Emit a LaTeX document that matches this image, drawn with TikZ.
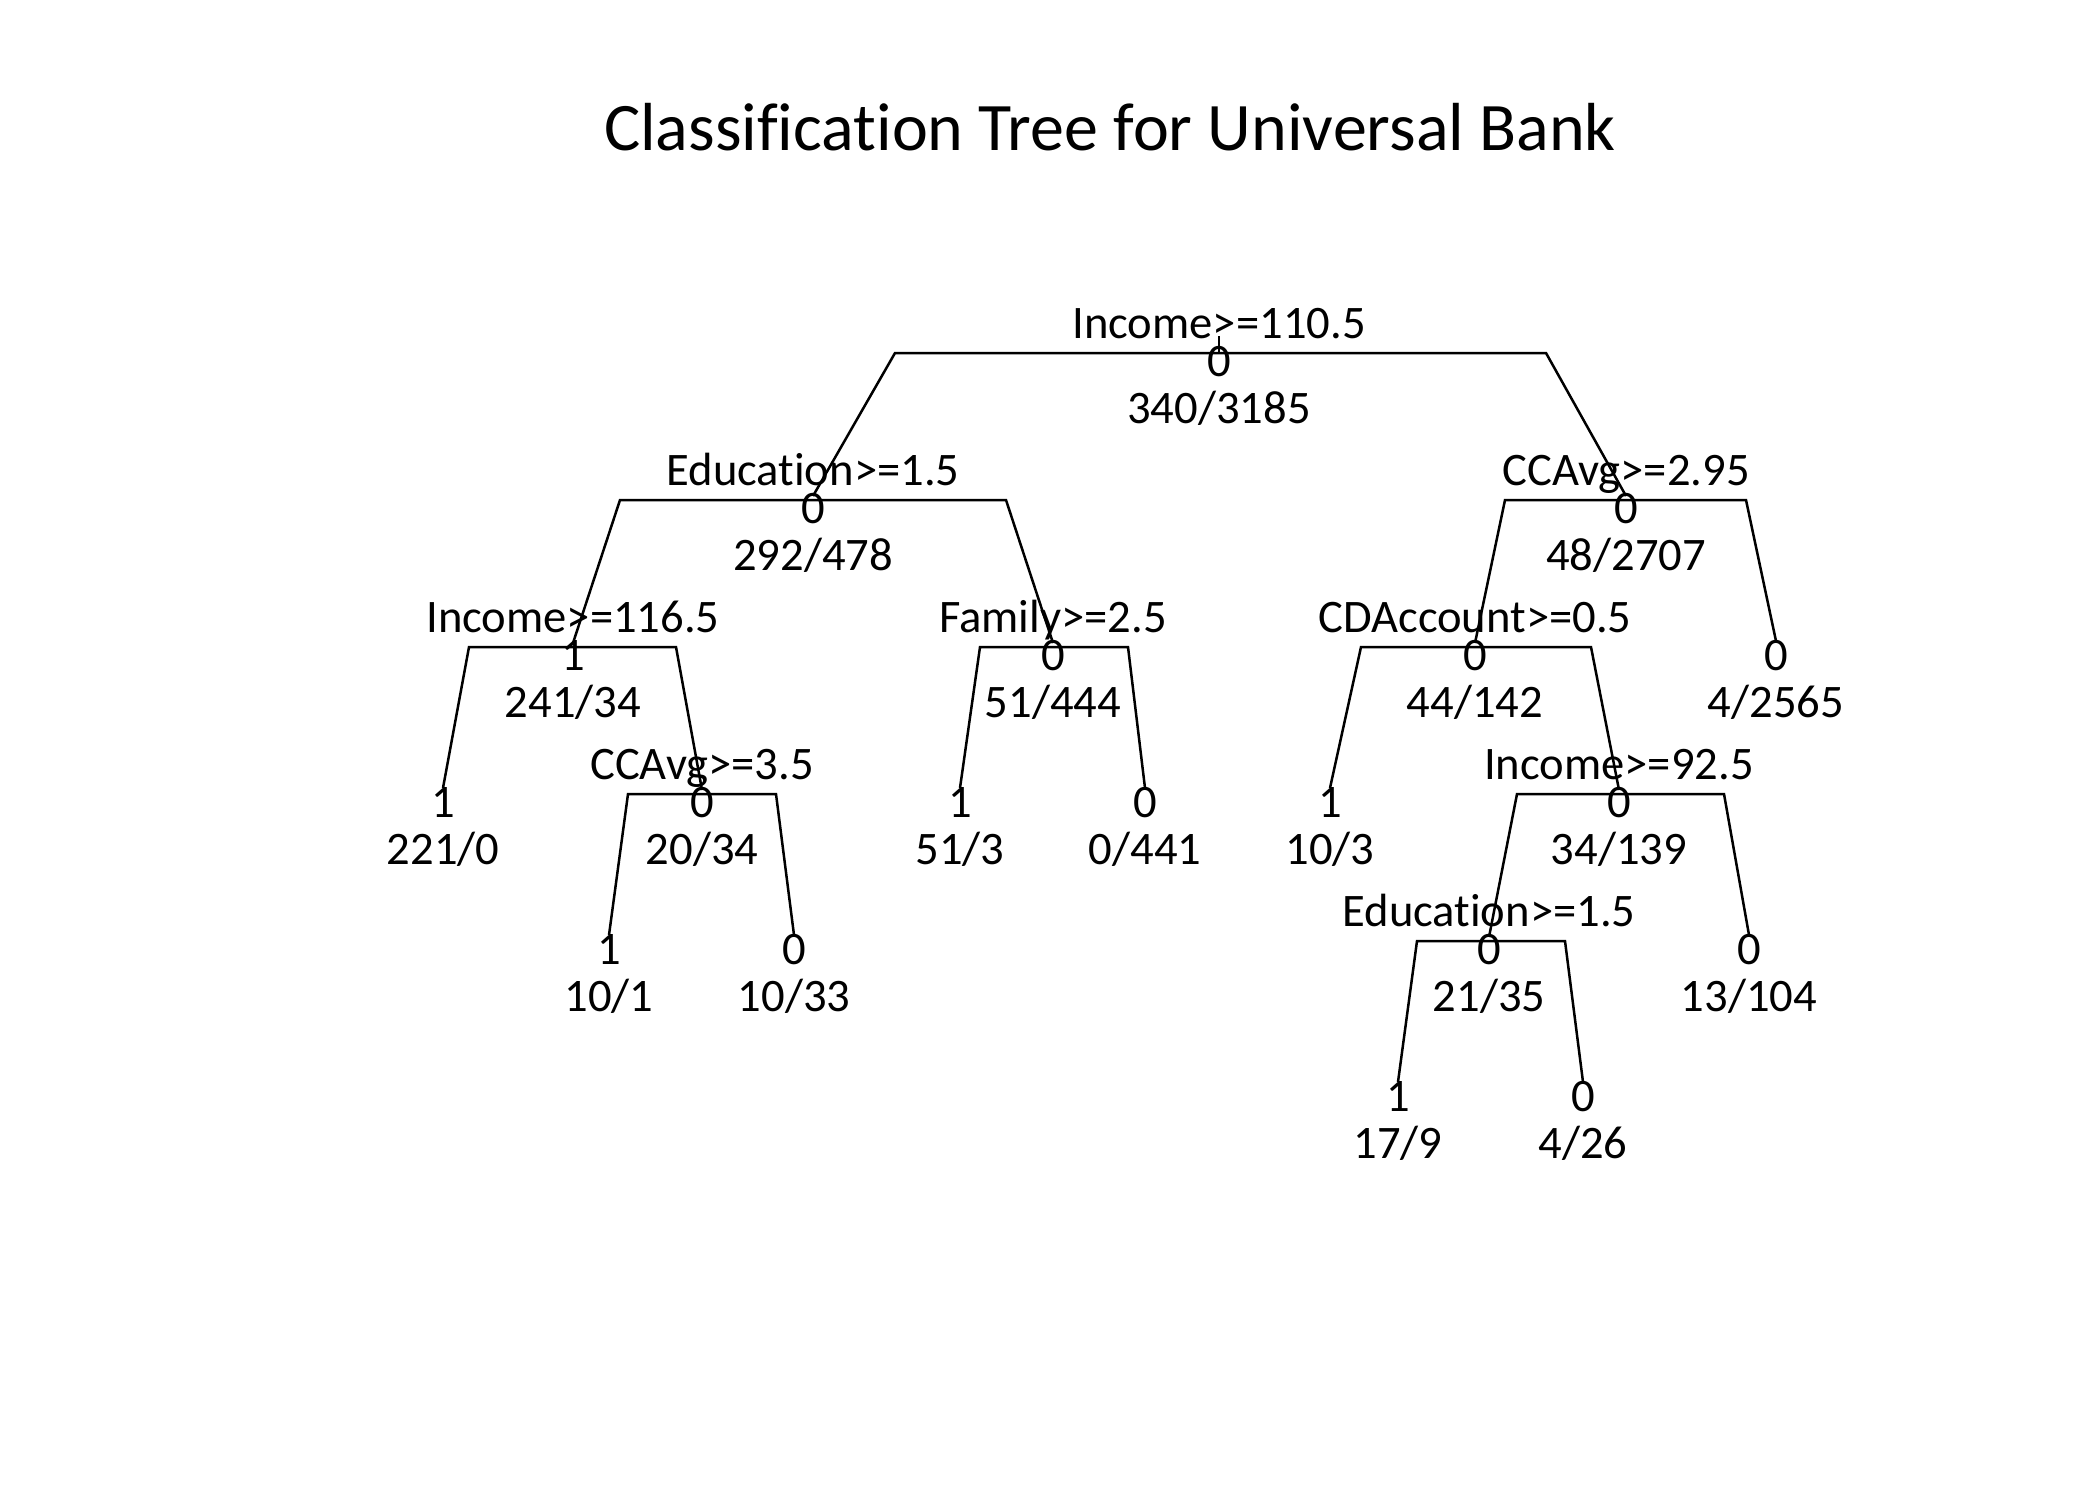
\documentclass[tikz,border=0pt]{standalone}
\usepackage{fontspec}
\setmainfont{Carlito}[Ligatures={NoCommon}]
\begin{document}
\begin{tikzpicture}[x=0.5pt,y=-0.5pt,
  lbl/.style={anchor=base,inner sep=0pt,font=\fontsize{23.3}{27}\selectfont},
  cls/.style={anchor=base,inner sep=0pt,font=\fontsize{23.3}{27}\selectfont},
  stat/.style={anchor=base,inner sep=0pt,font=\fontsize{23.3}{27}\selectfont},
  ttl/.style={anchor=base,inner sep=0pt,font=\fontsize{34}{40}\selectfont},
  edge/.style={line width=1.25pt,line cap=butt,line join=miter}]
\fill[white] (0,0) rectangle (2100,1500);
\useasboundingbox (0,0) rectangle (2100,1500);

\node[ttl] (title) at (1110,150) {Classification Tree for Universal Bank};

% node 1 (root)
\node[lbl] (n1lab) at (1219,338) {Income>=110.5};
\node[cls] (n1cls) at (1219,376) {0};
\node[stat] (n1st) at (1219,423) {340/3185};
\coordinate (n1t) at (1219,336);
\coordinate (n1L) at (895,353);
\coordinate (n1R) at (1546,353);
\coordinate (n1M) at (1219,353);

% node 2
\node[lbl] (n2lab) at (813,485) {Education>=1.5};
\node[cls] (n2cls) at (813,523) {0};
\node[stat] (n2st) at (813,570) {292/478};
\coordinate (n2t) at (813,496);
\coordinate (n2L) at (620,500);
\coordinate (n2R) at (1006,500);

% node 3
\node[lbl] (n3lab) at (1626,485) {CCAvg>=2.95};
\node[cls] (n3cls) at (1626,523) {0};
\node[stat] (n3st) at (1626,570) {48/2707};
\coordinate (n3t) at (1626,496);
\coordinate (n3L) at (1505,500);
\coordinate (n3R) at (1746,500);

% node 4
\node[lbl] (n4lab) at (573,632) {Income>=116.5};
\node[cls] (n4cls) at (573,670) {1};
\node[stat] (n4st) at (573,717) {241/34};
\coordinate (n4t) at (573,643);
\coordinate (n4L) at (469,647);
\coordinate (n4R) at (676,647);

% node 5
\node[lbl] (n5lab) at (1053,632) {Family>=2.5};
\node[cls] (n5cls) at (1053,670) {0};
\node[stat] (n5st) at (1053,717) {51/444};
\coordinate (n5t) at (1053,643);
\coordinate (n5L) at (980,647);
\coordinate (n5R) at (1128,647);

% node 6
\node[lbl] (n6lab) at (1475,632) {CDAccount>=0.5};
\node[cls] (n6cls) at (1475,670) {0};
\node[stat] (n6st) at (1475,717) {44/142};
\coordinate (n6t) at (1475,643);
\coordinate (n6L) at (1361,647);
\coordinate (n6R) at (1591,647);

% node 7 (leaf)
\node[cls] (n7cls) at (1776,670) {0};
\node[stat] (n7st) at (1776,717) {4/2565};
\coordinate (n7t) at (1776,641);

% node 8 (leaf)
\node[cls] (n8cls) at (443,817) {1};
\node[stat] (n8st) at (443,864) {221/0};
\coordinate (n8t) at (443,788);

% node 9
\node[lbl] (n9lab) at (702,779) {CCAvg>=3.5};
\node[cls] (n9cls) at (702,817) {0};
\node[stat] (n9st) at (702,864) {20/34};
\coordinate (n9t) at (702,790);
\coordinate (n9L) at (628,794);
\coordinate (n9R) at (776,794);

% node 10 (leaf)
\node[cls] (n10cls) at (960,817) {1};
\node[stat] (n10st) at (960,864) {51/3};
\coordinate (n10t) at (960,788);

% node 11 (leaf)
\node[cls] (n11cls) at (1145,817) {0};
\node[stat] (n11st) at (1145,864) {0/441};
\coordinate (n11t) at (1145,788);

% node 12 (leaf)
\node[cls] (n12cls) at (1330,817) {1};
\node[stat] (n12st) at (1330,864) {10/3};
\coordinate (n12t) at (1330,788);

% node 13
\node[lbl] (n13lab) at (1619,779) {Income>=92.5};
\node[cls] (n13cls) at (1619,817) {0};
\node[stat] (n13st) at (1619,864) {34/139};
\coordinate (n13t) at (1619,790);
\coordinate (n13L) at (1517,794);
\coordinate (n13R) at (1724,794);

% node 14 (leaf)
\node[cls] (n14cls) at (609,964) {1};
\node[stat] (n14st) at (609,1011) {10/1};
\coordinate (n14t) at (609,935);

% node 15 (leaf)
\node[cls] (n15cls) at (794,964) {0};
\node[stat] (n15st) at (794,1011) {10/33};
\coordinate (n15t) at (794,935);

% node 16
\node[lbl] (n16lab) at (1489,926) {Education>=1.5};
\node[cls] (n16cls) at (1489,964) {0};
\node[stat] (n16st) at (1489,1011) {21/35};
\coordinate (n16t) at (1489,937);
\coordinate (n16L) at (1417,941);
\coordinate (n16R) at (1565,941);

% node 17 (leaf)
\node[cls] (n17cls) at (1749,964) {0};
\node[stat] (n17st) at (1749,1011) {13/104};
\coordinate (n17t) at (1749,935);

% node 18 (leaf)
\node[cls] (n18cls) at (1398,1111) {1};
\node[stat] (n18st) at (1398,1158) {17/9};
\coordinate (n18t) at (1398,1082);

% node 19 (leaf)
\node[cls] (n19cls) at (1583,1111) {0};
\node[stat] (n19st) at (1583,1158) {4/26};
\coordinate (n19t) at (1583,1082);

% connectors
\draw[edge] (n1t) -- (n1M);
\draw[edge] (n2t) -- (n1L) -- (n1R) -- (n3t);
\draw[edge] (n4t) -- (n2L) -- (n2R) -- (n5t);
\draw[edge] (n6t) -- (n3L) -- (n3R) -- (n7t);
\draw[edge] (n8t) -- (n4L) -- (n4R) -- (n9t);
\draw[edge] (n10t) -- (n5L) -- (n5R) -- (n11t);
\draw[edge] (n12t) -- (n6L) -- (n6R) -- (n13t);
\draw[edge] (n14t) -- (n9L) -- (n9R) -- (n15t);
\draw[edge] (n16t) -- (n13L) -- (n13R) -- (n17t);
\draw[edge] (n18t) -- (n16L) -- (n16R) -- (n19t);
\end{tikzpicture}
\end{document}
